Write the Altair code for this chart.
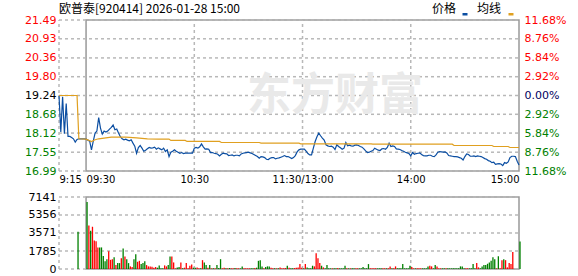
import altair as alt
import numpy as np
import pandas as pd

# ---------------- data ----------------
title_text = "欧普泰[920414] 2026-01-28 15:00"
prev_close = 19.24
price_ticks = [16.99, 17.55, 18.12, 18.68, 19.24, 19.80, 20.36, 20.93, 21.49]
pct_labels = ["11.68%", "8.76%", "5.84%", "2.92%", "0.00%", "2.92%", "5.84%", "8.76%", "11.68%"]
price_domain = [16.99, 21.49]
vol_ticks = [0, 1785, 3571, 5356, 7141]
x_tick_t = [0, 15, 75, 135, 195, 255]
x_tick_labels = ["9:15", "09:30", "10:30", "11:30/13:00", "14:00", "15:00"]
x_grid_t = [0, 75, 135, 195]
session_bounds = [15, 255]

pre_prices = [19.24, 18.15, 19.20, 18.10, 19.00, 18.02, 18.02, 17.99, 17.95, 17.85,
              17.93, 17.95, 17.95, 17.95, 17.95]
pre_vols = [0, 0, 0, 0, 0, 0, 0, 0, 0, 0, 3700, 0, 0, 0, 0]
pre_dirs = list("ddddddddddddddd")

prices = [
    17.94, 17.91, 17.88, 17.62, 17.88, 18.12, 18.18, 18.58, 18.27, 18.09,
    18.18, 18.15, 18.18, 18.24, 18.29, 18.36, 18.22, 18.24, 18.12, 18.01,
    17.95, 17.92, 17.94, 17.91, 17.89, 17.92, 17.82, 17.73, 17.52, 17.69,
    17.75, 17.67, 17.58, 17.61, 17.65, 17.69, 17.67, 17.68, 17.70, 17.64,
    17.68, 17.65, 17.62, 17.67, 17.57, 17.62, 17.42, 17.55, 17.58, 17.62,
    17.58, 17.55, 17.52, 17.54, 17.51, 17.52, 17.52, 17.52, 17.52, 17.52,
    17.67, 17.69, 17.67, 17.71, 17.80, 17.71, 17.64, 17.65, 17.64, 17.54,
    17.54, 17.52, 17.51, 17.49, 17.44, 17.49, 17.52, 17.51, 17.50, 17.45,
    17.46, 17.47, 17.44, 17.46, 17.46, 17.44, 17.50, 17.52, 17.53, 17.54,
    17.55, 17.53, 17.51, 17.48, 17.45, 17.42, 17.37, 17.42, 17.41, 17.39,
    17.34, 17.33, 17.37, 17.39, 17.39, 17.35, 17.37, 17.38, 17.40, 17.42,
    17.45, 17.42, 17.42, 17.39, 17.36, 17.39, 17.45, 17.56, 17.62, 17.64,
    17.64, 17.64, 17.58, 17.51, 17.47, 17.47, 17.67, 17.87, 18.01, 18.12,
    18.04, 17.97, 17.91, 17.77, 17.74, 17.72, 17.73, 17.70, 17.63, 17.77,
    17.72, 17.68, 17.64, 17.67, 17.84, 17.74, 17.76, 17.74, 17.73, 17.76,
    17.77, 17.75, 17.72, 17.70, 17.65, 17.59, 17.54, 17.55, 17.58, 17.60,
    17.67, 17.64, 17.61, 17.60, 17.65, 17.66, 17.64, 17.69, 17.82, 17.72,
    17.74, 17.72, 17.65, 17.64, 17.63, 17.60, 17.58, 17.55, 17.53, 17.51,
    17.44, 17.54, 17.49, 17.51, 17.52, 17.53, 17.48, 17.45, 17.44, 17.44,
    17.46, 17.46, 17.43, 17.42, 17.47, 17.55, 17.57, 17.56, 17.55, 17.56,
    17.53, 17.45, 17.44, 17.43, 17.42, 17.42, 17.41, 17.39, 17.37, 17.32,
    17.42, 17.50, 17.48, 17.43, 17.43, 17.44, 17.42, 17.44, 17.43, 17.42,
    17.39, 17.36, 17.34, 17.30, 17.28, 17.24, 17.25, 17.19, 17.20, 17.21,
    17.20, 17.15, 17.24, 17.22, 17.26, 17.39, 17.43, 17.43, 17.42, 17.28,
    17.17,
]
vols = [
    6650, 4315, 3800, 4190, 2825, 2760, 2140, 2140, 2140, 1300,
    780, 975, 1750, 910, 975, 1170, 390, 585, 585, 1070,
    2045, 1235, 975, 585, 260, 195, 975, 1460, 715, 811,
    487, 585, 780, 390, 260, 260, 227, 130, 195, 130,
    357, 65, 65, 357, 260, 390, 1235, 1235, 650, 65,
    160, 195, 650, 65, 130, 585, 65, 325, 455, 130,
    130, 160, 65, 65, 877, 650, 390, 130, 390, 65,
    65, 65, 390, 100, 975, 65, 130, 65, 65, 100,
    65, 65, 100, 65, 65, 65, 260, 65, 65, 65,
    65, 65, 65, 100, 130, 811, 877, 260, 65, 195,
    260, 260, 130, 65, 65, 65, 65, 160, 65, 65,
    100, 325, 130, 65, 65, 100, 130, 160, 487, 130,
    65, 487, 160, 65, 65, 325, 260, 1560, 1070, 585,
    325, 160, 65, 390, 65, 65, 65, 65, 65, 100,
    65, 65, 65, 325, 65, 65, 65, 65, 65, 65,
    65, 65, 65, 195, 65, 65, 487, 65, 65, 65,
    65, 65, 65, 65, 65, 65, 65, 65, 260, 65,
    65, 260, 65, 65, 65, 487, 65, 65, 65, 325,
    195, 65, 65, 65, 65, 65, 65, 65, 65, 260,
    325, 260, 65, 390, 260, 65, 65, 65, 65, 65,
    65, 65, 65, 65, 65, 65, 65, 260, 260, 65,
    65, 65, 65, 65, 487, 65, 585, 160, 65, 260,
    390, 390, 520, 650, 811, 1170, 975, 65, 1265, 65,
    877, 975, 877, 160, 585, 487, 1690, 0, 0, 0,
    2727,
]
dirs = list(
    "dudu" "uuud" "dd"
    "dduuududd" "u"
    "duddu" "udduu"
    "dddu" "uuuuud"
    "dddu" "uddu" "uu"
    "ddud" "uuuuud"
    "duudud" "dudu"
    "duddduudud"
    "uudu" "udduuu"
    "uddudddd" "ud"
    "ddu" "udud" "uuu"
    "udu" "dduuuuu"
    "duddddu" "uuu"
    "duddddu" "ddu"
    "dddd" "udud" "du"
    "udddddd" "uuu"
    "uddduudu" "ud"
    "uudddddddd"
    "uudu" "uuddd" "d"
    "uuddu" "uudd" "u"
    "dddddddddd"
    "uudddd" "uudd"
    "ddddddd" "udu"
    "uduuuuuddd"
    "d"
)

avg_times = ["09:15", "09:25", "09:26", "09:30", "09:33", "09:35", "09:37", "09:40", "09:44",
             "09:52", "09:58", "10:04", "10:10", "10:16", "10:17", "10:25", "10:26", "10:44",
             "10:45", "11:06", "11:07", "11:28", "11:29", "13:38", "13:39", "14:23", "14:24",
             "14:45", "14:46", "14:54", "14:55", "15:00"]
avg_values = [19.24, 19.24, 17.95, 17.94, 17.87, 17.92, 17.95, 17.97, 18.00,
              18.00, 17.98, 17.95, 17.94, 17.94, 17.90, 17.90, 17.87, 17.87,
              17.84, 17.84, 17.82, 17.82, 17.80, 17.80, 17.79, 17.79, 17.75,
              17.75, 17.72, 17.72, 17.69, 17.69]

legend_names = ["价格", "均线"]
price_color = "#0b4ea2"
avg_color = "#e0a020"
up_color = "#ff0000"
down_color = "#008000"

# ---------------- geometry / style ----------------
W, H1, H2 = 460, 151, 72
FONT_NUM = "DejaVu Sans"
FONT_CJK = "Noto Sans CJK SC"
GRID = "#b8b8b8"
FRAME = "#999999"
DASH_PX = 3.0


def t_of(hhmm):
    h, m = map(int, hhmm.split(":"))
    mm = h * 60 + m
    if mm < 570:
        return mm - 555
    if mm <= 690:
        return 15 + mm - 570
    return 135 + mm - 780


line_df = pd.DataFrame({
    "t": list(range(0, 15)) + [15 + i for i in range(len(prices))],
    "price": pre_prices + prices,
})
avg_df = pd.DataFrame({"t": [t_of(s) for s in avg_times], "price": avg_values})
vol_df = pd.DataFrame({
    "t": list(range(0, 15)) + [15 + i for i in range(len(vols))],
    "vol": pre_vols + vols,
    "dir": pre_dirs + dirs[:len(vols)],
    "zero": 0,
})
vol_df = vol_df[vol_df["vol"] > 0]
vol_up = vol_df[vol_df["dir"] == "u"]
vol_dn = vol_df[vol_df["dir"] == "d"]

frame_price = pd.DataFrame({"t": [session_bounds[0]], "t1": [session_bounds[1]],
                            "price": [price_domain[0]], "p1": [price_domain[1]]})
frame_vol = pd.DataFrame({"t": [session_bounds[0]], "t1": [session_bounds[1]],
                          "vol": [vol_ticks[0]], "v1": [vol_ticks[-1]]})
ptick_df = pd.DataFrame({"price": price_ticks})


# dashed grid lines built as short solid pieces (data units derived from the scales)
def h_dashes(values, col, x_len, width_px):
    step = x_len / width_px * DASH_PX
    starts = np.arange(0, x_len, 2 * step)
    rows = [{"t": float(s), "t1": float(min(s + step, x_len)), col: float(v)}
            for v in values for s in starts]
    return pd.DataFrame(rows)


def v_dashes(tvals, col, lo, hi, height_px):
    step = (hi - lo) / height_px * DASH_PX
    starts = np.arange(lo, hi, 2 * step)
    rows = [{"t": float(tv), col: float(s), col + "1": float(min(s + step, hi))}
            for tv in tvals for s in starts]
    return pd.DataFrame(rows)


hgrid_p = h_dashes(price_ticks, "price", 255, W)
vgrid_p = v_dashes(x_grid_t, "price", price_domain[0], price_domain[1], H1)
hgrid_v = h_dashes(vol_ticks, "vol", 255, W)
vgrid_v = v_dashes(x_grid_t, "vol", vol_ticks[0], vol_ticks[-1], H2)

x_expr = ""
for tv, lab in zip(x_tick_t, x_tick_labels):
    x_expr += f"datum.value == {tv} ? '{lab}' : "
x_expr += "''"

pct_expr = ""
for tv, lab in zip(price_ticks, pct_labels):
    pct_expr += f"abs(datum.value - {tv}) < 0.01 ? '{lab}' : "
pct_expr += "''"

x_scale = alt.Scale(domain=[0, 255], nice=False, zero=False)
p_scale = alt.Scale(domain=price_domain, nice=False, zero=False)
v_scale = alt.Scale(domain=[vol_ticks[0], vol_ticks[-1]], nice=False)

x_axis_top = alt.Axis(
    values=x_tick_t, labelExpr=x_expr, grid=False,
    domain=False, ticks=False,
    labelFont=FONT_NUM, labelFontSize=10, labelColor="#000000", labelPadding=3,
    labelFlush=False, labelOverlap=False, title=None,
    labelAlign={"condition": [{"test": "datum.value <= 15", "value": "left"},
                              {"test": "datum.value >= 255", "value": "right"}],
                "value": "center"},
)
x_axis_vol = alt.Axis(values=x_tick_t, labels=False, grid=False, domain=False,
                      ticks=False, title=None)

label_color_cond = {"condition": [{"test": f"datum.value > {prev_close + 0.01}", "value": up_color},
                                  {"test": f"datum.value < {prev_close - 0.01}", "value": down_color}],
                    "value": "#000000"}
label_color_cond_r = {"condition": [{"test": f"datum.value > {prev_close + 0.01}", "value": up_color},
                                    {"test": f"datum.value < {prev_close - 0.01}", "value": down_color}],
                      "value": "#000060"}

y_axis_left = alt.Axis(
    values=price_ticks, format=".2f", grid=False, domain=False, ticks=False,
    labelFont=FONT_NUM, labelFontSize=11, labelPadding=3, minExtent=35, maxExtent=35,
    title=None, labelColor=label_color_cond, labelOverlap=False,
)
y_axis_right = alt.Axis(
    orient="right", values=price_ticks, labelExpr=pct_expr, grid=False, domain=False,
    ticks=False, labelFont=FONT_NUM, labelFontSize=11, labelPadding=5, title=None,
    labelColor=label_color_cond_r, labelOverlap=False,
)
y_axis_vol = alt.Axis(
    values=vol_ticks, format="d", grid=False, domain=False, ticks=False,
    labelFont=FONT_NUM, labelFontSize=11, labelPadding=3, minExtent=35, maxExtent=35,
    labelColor="#000000", title=None, labelOverlap=False,
)

X = alt.X("t:Q", scale=x_scale, axis=x_axis_top)
YP = alt.Y("price:Q", scale=p_scale, axis=y_axis_left)

# ---------------- price panel ----------------
hgrid = alt.Chart(hgrid_p).mark_rule(color=GRID, strokeWidth=1.5).encode(
    x=X, x2="t1:Q", y=YP)
vgrid = alt.Chart(vgrid_p).mark_rule(color=GRID, strokeWidth=1.5).encode(
    x=X, y=YP, y2="price1:Q")
frame1 = alt.Chart(frame_price).mark_rect(
    fillOpacity=0, stroke=FRAME, strokeWidth=1.5).encode(x=X, x2="t1:Q", y=YP, y2="p1:Q")
price_line = alt.Chart(line_df).mark_line(color=price_color, strokeWidth=1.2).encode(x=X, y=YP)
avg_line = alt.Chart(avg_df).mark_line(color=avg_color, strokeWidth=1.2).encode(x=X, y=YP)
watermark = alt.Chart(pd.DataFrame({"w": ["东方财富"]})).mark_text(
    font=FONT_CJK, fontSize=44, fontWeight="bold", color="#e9e9e9", align="center",
    baseline="middle").encode(text="w:N", x=alt.value(276), y=alt.value(77))
title_mark = alt.Chart(pd.DataFrame({"s": [title_text]})).mark_text(
    font=FONT_CJK, fontSize=12, align="left", baseline="middle", color="#000000").encode(
    text="s:N", x=alt.value(0), y=alt.value(-11))
legend_text = alt.Chart(pd.DataFrame({"s": legend_names, "px": [373, 418]})).mark_text(
    font=FONT_CJK, fontSize=12, align="left", baseline="middle", color="#000000").encode(
    text="s:N", x=alt.X("px:Q", scale=None), y=alt.value(-11))
sw_price = alt.Chart(pd.DataFrame({"s": [legend_names[0]], "px": [403.5], "px2": [408.5]})).mark_rect(
    color=price_color).encode(x=alt.X("px:Q", scale=None), x2="px2:Q",
                              y=alt.value(-7), y2=alt.value(-4.5))
sw_avg = alt.Chart(pd.DataFrame({"s": [legend_names[1]], "px": [449.5], "px2": [454.5]})).mark_rect(
    color=avg_color).encode(x=alt.X("px:Q", scale=None), x2="px2:Q",
                            y=alt.value(-7), y2=alt.value(-4.5))
inner_price = alt.layer(frame1, hgrid, vgrid, watermark, price_line, avg_line, title_mark,
                        legend_text, sw_price, sw_avg)
right_axis = alt.Chart(ptick_df).mark_point(opacity=0).encode(
    y=alt.Y("price:Q", scale=p_scale, axis=y_axis_right), x=alt.value(0))

price_panel = alt.layer(inner_price, right_axis).resolve_scale(
    y="independent").properties(width=W, height=H1)

# ---------------- volume panel ----------------
XV = alt.X("t:Q", scale=x_scale, axis=x_axis_vol)
YV = alt.Y("vol:Q", scale=v_scale, axis=y_axis_vol)
frame2 = alt.Chart(frame_vol).mark_rect(
    fillOpacity=0, stroke=FRAME, strokeWidth=1.5).encode(x=XV, x2="t1:Q", y=YV, y2="v1:Q")
vhgrid = alt.Chart(hgrid_v).mark_rule(color=GRID, strokeWidth=1.5).encode(
    x=XV, x2="t1:Q", y=YV)
vvgrid = alt.Chart(vgrid_v).mark_rule(color=GRID, strokeWidth=1.5).encode(
    x=XV, y=YV, y2="vol1:Q")
bars_up = alt.Chart(vol_up).mark_rule(strokeWidth=1.3, xOffset=1, color=up_color).encode(
    x=XV, y=YV, y2="zero:Q")
bars_dn = alt.Chart(vol_dn).mark_rule(strokeWidth=1.3, xOffset=1, color=down_color).encode(
    x=XV, y=YV, y2="zero:Q")
vol_panel = alt.layer(frame2, vhgrid, vvgrid, bars_up, bars_dn).properties(width=W, height=H2)

chart = alt.vconcat(price_panel, vol_panel, spacing=7).properties(
    padding={"left": 24, "top": 3, "right": 5, "bottom": 0},
).configure_view(stroke=None)

chart.save("out.html", embed_options={"renderer": "svg", "actions": False})
